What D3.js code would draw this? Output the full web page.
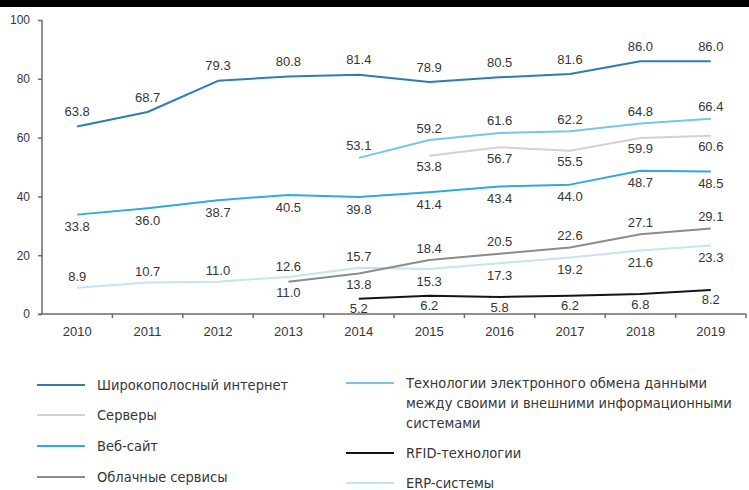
<!DOCTYPE html>
<html><head><meta charset="utf-8">
<script src="https://cdn.jsdelivr.net/npm/d3@7"></script>
<style>
body{margin:0;background:#fff;}
svg{display:block;}
</style></head>
<body>
<svg id="chart" width="749" height="490"></svg>
<script>
const years = [2010,2011,2012,2013,2014,2015,2016,2017,2018,2019];
const yTicks = [0,20,40,60,80,100];

const broadband = [63.8,68.7,79.3,80.8,81.4,78.9,80.5,81.6,86.0,86.0];
const serverYears = [2015,2016,2017,2018,2019];
const servers = [53.8,56.7,55.5,59.9,60.6];
const website = [33.8,36.0,38.7,40.5,39.8,41.4,43.4,44.0,48.7,48.5];
const cloudYears = [2013,2014,2015,2016,2017,2018,2019];
const cloud = [11.0,13.8,18.4,20.5,22.6,27.1,29.1];
const ediYears = [2014,2015,2016,2017,2018,2019];
const edi = [53.1,59.2,61.6,62.2,64.8,66.4];
const rfidYears = [2014,2015,2016,2017,2018,2019];
const rfid = [5.2,6.2,5.8,6.2,6.8,8.2];
const erp = [8.9,10.7,11.0,12.6,15.7,15.3,17.3,19.2,21.6,23.3];

const names = {
  broadband: "Широкополосный интернет",
  servers: "Серверы",
  website: "Веб-сайт",
  cloud: "Облачные сервисы",
  edi: ["Технологии электронного обмена данными","между своими и внешними информационными","системами"],
  rfid: "RFID-технологии",
  erp: "ERP-системы"
};

// label sides: 1 = above, -1 = below
const sideBroadband = [1,1,1,1,1,1,1,1,1,1];
const sideServers = [-1,-1,-1,-1,-1];
const sideWebsite = [-1,-1,-1,-1,-1,-1,-1,-1,-1,-1];
const sideCloud = [-1,-1,1,1,1,1,1];
const sideEdi = [1,1,1,1,1,1];
const sideRfid = [-1,-1,-1,-1,-1,-1];
const sideErp = [1,1,1,1,1,-1,-1,-1,-1,-1];

const colors = {
  broadband:"#2e7db0", servers:"#d2d2d2", website:"#33a8dc", cloud:"#8c8c8c",
  edi:"#74c6ea", rfid:"#151515", erp:"#c6e3f3"
};

const series = [
  {key:"erp", xs:years, ys:erp, side:sideErp, off:[11,12]},
  {key:"servers", xs:serverYears, ys:servers, side:sideServers, off:[12,11]},
  {key:"edi", xs:ediYears, ys:edi, side:sideEdi, off:[12,12]},
  {key:"cloud", xs:cloudYears, ys:cloud, side:sideCloud, off:[12,11]},
  {key:"website", xs:years, ys:website, side:sideWebsite, off:[12,12]},
  {key:"broadband", xs:years, ys:broadband, side:sideBroadband, off:[15,12]},
  {key:"rfid", xs:rfidYears, ys:rfid, side:sideRfid, off:[10,10]}
];

const svg = d3.select("#chart");
svg.append("rect").attr("x",0).attr("y",0).attr("width",749).attr("height",490).attr("fill","#fff");
svg.append("rect").attr("x",0).attr("y",0).attr("width",749).attr("height",7).attr("fill","#000");

const x = d3.scaleBand().domain(years).range([42,746]).padding(0);
const y = d3.scaleLinear().domain([0,100]).range([314,20]);
const cx = v => x(v) + x.bandwidth()/2;

const axisColor = "#6b6b6b";
const txtColor = "#363636";

// y axis
const gy = svg.append("g").attr("transform","translate(42,0)")
  .call(d3.axisLeft(y).tickValues(yTicks).tickSize(4).tickPadding(8));
gy.select(".domain").attr("stroke",axisColor).attr("stroke-width",1.5).attr("d","M0,20V314");
gy.selectAll(".tick line").attr("stroke",axisColor).attr("stroke-width",1.5);
gy.selectAll(".tick text").attr("font-family","'Liberation Sans', Arial, sans-serif")
  .attr("font-size",12).attr("fill",txtColor);

// x axis
const gx = svg.append("g").attr("transform","translate(0,314)")
  .call(d3.axisBottom(x).tickSize(0).tickPadding(13));
gx.select(".domain").attr("stroke",axisColor).attr("stroke-width",1.5).attr("d","M39,0H746");
gx.selectAll(".tick text").attr("font-family","'Liberation Sans', Arial, sans-serif")
  .attr("font-size",13).attr("fill",txtColor);
const bounds = years.map(v => x(v) + x.bandwidth());
gx.selectAll("line.bt").data(bounds).enter().append("line").attr("class","bt")
  .attr("x1",d=>d).attr("x2",d=>d).attr("y1",0).attr("y2",4)
  .attr("stroke",axisColor).attr("stroke-width",1.5);

// lines
const line = d3.line().x(d=>cx(d[0])).y(d=>y(d[1])).curve(d3.curveLinear);
series.forEach(s=>{
  const pts = s.xs.map((v,i)=>[v,s.ys[i]]);
  svg.append("path").datum(pts).attr("d",line).attr("fill","none")
    .attr("stroke",colors[s.key]).attr("stroke-width",2)
    .attr("stroke-linejoin","round");
});

// labels
series.forEach(s=>{
  s.xs.forEach((v,i)=>{
    const yy = y(s.ys[i]);
    const c = s.side[i] > 0 ? yy - s.off[0] : yy + s.off[1];
    svg.append("text").attr("x",cx(v)).attr("y",c + 4.6)
      .attr("text-anchor","middle")
      .attr("font-family","'Liberation Sans', Arial, sans-serif")
      .attr("font-size",13).attr("fill",txtColor)
      .text(s.ys[i].toFixed(1));
  });
});

// legend
const legFont = "'DejaVu Sans Condensed', 'DejaVu Sans', sans-serif";
const legendLeft = [
  {key:"broadband", y:385},
  {key:"servers", y:415},
  {key:"website", y:446},
  {key:"cloud", y:477}
];
const legendRight = [
  {key:"edi", y:383},
  {key:"rfid", y:453},
  {key:"erp", y:483}
];
function addLegend(items, x0){
  items.forEach(it=>{
    svg.append("line").attr("x1",x0).attr("x2",x0+48).attr("y1",it.y).attr("y2",it.y)
      .attr("stroke",colors[it.key]).attr("stroke-width",2);
    const lines = Array.isArray(names[it.key]) ? names[it.key] : [names[it.key]];
    lines.forEach((t,j)=>{
      svg.append("text").attr("x",x0+60).attr("y",it.y + j*20 + 5)
        .attr("font-family",legFont).attr("font-size",14.5).attr("fill",txtColor)
        .text(t);
    });
  });
}
addLegend(legendLeft, 37);
addLegend(legendRight, 346);
</script>
</body></html>
